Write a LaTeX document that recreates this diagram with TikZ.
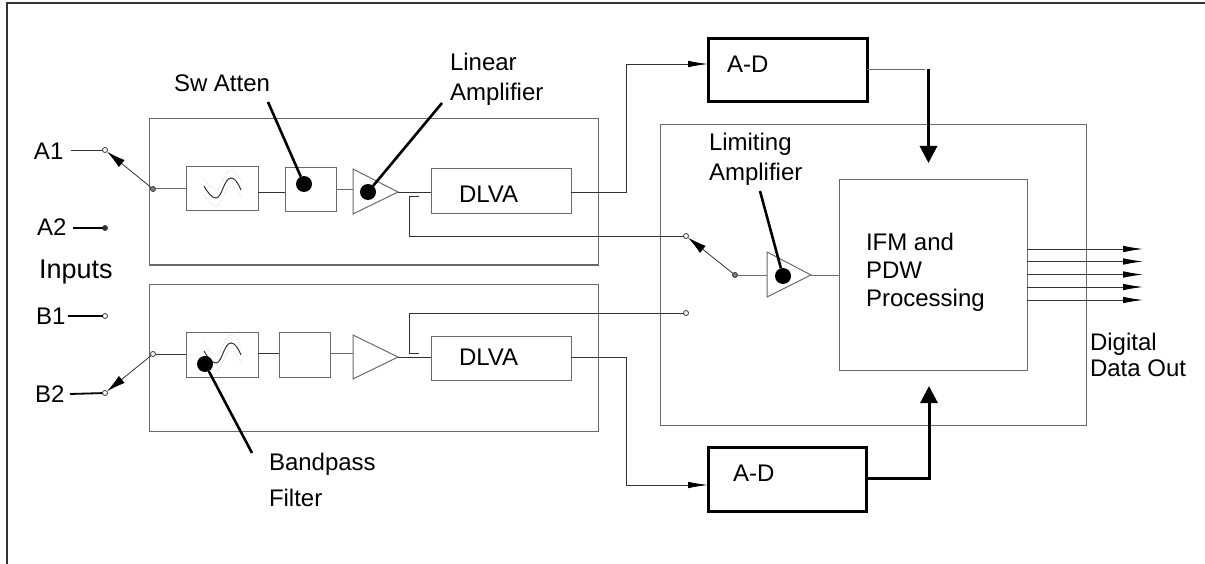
\documentclass[tikz,border=0pt]{standalone}
\usepackage{fontspec}
\setmainfont{Liberation Sans}
\usetikzlibrary{arrows.meta}
\definecolor{ln}{HTML}{6A6A6A}
\definecolor{dk}{HTML}{333333}
\definecolor{pale}{HTML}{D4D4D4}
\newcommand{\blk}[6][thinbox]{\node[#1,minimum width={(#5-#3)*1pt},minimum height={(#6-#4)*1pt}] (#2) at ({(#3+#5)/2},{(#4+#6)/2}) {};}
\newcommand{\sinewave}[2]{%
\draw[pale,line width=.7pt,densely dotted,shift={(#1,#2-8)}] (0,-4) .. controls (4,3) and (8,8) .. (12,8) .. controls (18,8) and (20,-12) .. (27,-12) .. controls (31,-12) and (34,-7) .. (37,0);
\draw[pale,line width=.7pt,densely dotted,shift={(#1,#2+8)}] (0,-4) .. controls (4,3) and (8,8) .. (12,8) .. controls (18,8) and (20,-12) .. (27,-12) .. controls (31,-12) and (34,-7) .. (37,0);
\draw[dk,line width=1pt,shift={(#1,#2)}] (0,-4) .. controls (4,3) and (8,8) .. (12,8) .. controls (18,8) and (20,-12) .. (27,-12) .. controls (31,-12) and (34,-7) .. (37,0);}
\tikzset{
  x=1pt,y=-1pt,
  wire/.style={draw=dk,line width=.8pt},
  thinbox/.style={draw=ln,line width=1pt,inner sep=0pt,outer sep=0pt},
  thickbox/.style={draw=black,line width=3pt,inner sep=0pt,outer sep=0pt},
  lead/.style={draw=black,line width=2.6pt},
  blob/.style={circle,fill=black,inner sep=0pt,outer sep=0pt,minimum size=16pt},
  term/.style={circle,draw=dk,fill=white,line width=.8pt,inner sep=0pt,outer sep=0pt,minimum size=5pt},
  termd/.style={term,fill=gray},
  txt/.style={inner sep=0pt,outer sep=0pt,anchor=base west,align=left,font=\fontsize{24}{28}\selectfont},
  tri/.style={draw=ln,line width=1pt},
  lin/.style={wire,-{Latex[length=20pt,width=6.5pt,color=black]}},
  swa/.style={wire,-{Latex[length=19pt,width=9pt,color=black]}},
  fat/.style={draw=black,line width=3pt,-{Triangle[length=17pt,width=17pt]}},
}
\begin{document}
\begin{tikzpicture}
\useasboundingbox (0,0) rectangle (1205,564);
\draw[draw=dk,line width=1.5pt] (7,564) -- (7,3) -- (1205,3);

% outer boxes
\blk{boxA}{149}{119}{598}{265}
\blk{boxB}{149}{284}{598}{431}
\blk{boxR}{660}{125}{1086}{425}
\blk{ifm}{839}{180}{1027}{370}
\blk{filtA}{186}{167}{258}{211}
\blk{filtB}{186}{332}{258}{377}
\blk{attA}{285}{168}{336}{212}
\blk{attB}{279}{332}{330}{377}
\blk{dlvaA}{431}{169}{571}{214}
\blk{dlvaB}{431}{336}{571}{380}
\blk[thickbox]{adT}{708}{39}{867}{102}
\blk[thickbox]{adB}{708}{447}{866}{511}

% triangles
\coordinate (tAa) at (353,169); \coordinate (tAb) at (353,214); \coordinate (tAc) at (398,192);
\coordinate (tBa) at (353,335); \coordinate (tBb) at (353,379); \coordinate (tBc) at (398,357);
\coordinate (tLa) at (767,252); \coordinate (tLb) at (767,297); \coordinate (tLc) at (811,275);
\draw[tri] (tAa) -- (tAb) -- (tAc) -- cycle;
\draw[tri] (tBa) -- (tBb) -- (tBc) -- cycle;
\draw[tri] (tLa) -- (tLb) -- (tLc) -- cycle;

% sine waves
\sinewave{204}{190}
\sinewave{204}{355}

% terminals
\node[term] (a1) at (105,150) {};
\node[termd] (ja) at (153,189) {};
\node[term,fill=dk] (a2) at (105,228) {};
\node[term] (b1) at (105,316) {};
\node[term] (b2) at (105,393) {};
\node[term] (jb) at (153,354) {};
\node[term] (s1) at (686,236) {};
\node[term] (s2) at (686,313) {};
\node[termd] (js) at (735,275) {};

% free ends
\coordinate (ia1) at (71,150);
\coordinate (ia2) at (73,228);
\coordinate (ib1) at (68,316);
\coordinate (ib2) at (70,394);

% input wires
\draw[wire] (ia1) -- (a1);
\draw[line width=1.8pt,draw=black] (ia2) -- (a2);
\draw[line width=1.8pt,draw=black] (ib1) -- (b1);
\draw[line width=1.8pt,draw=black] (ib2) -- (b2);
\draw[swa] (ja) -- (a1);
\draw[swa] (jb) -- (b2);
\draw[swa] (js) -- (s1);

% signal chain A
\draw[thinbox] (ja) -- (filtA.west |- ja);
\draw[wire] (filtA.east |- 0,192) -- (attA.west |- 0,192);
\draw[thinbox] (attA.east |- 0,190) -- (tAa |- 0,190);
\draw[wire] (tAc) -- (dlvaA.west |- tAc);

% signal chain B
\draw[wire] (jb) -- (filtB.west |- jb);
\draw[wire] (filtB.east |- 0,353) -- (attB.west |- 0,353);
\draw[thinbox] (attB.east |- 0,353) -- (tBa |- 0,353);
\draw[wire] (tBc) -- (dlvaB.west |- tBc);

% feedback to limiting switch
\coordinate (fa) at (419,196);
\coordinate (fb) at (419,353);
\draw[wire] (fa) -- (409,196) -- (409,236) -- (s1);
\draw[wire] (fb) -- (409,353) -- (409,313) -- (s2);
\draw[thinbox] (js) -- (tLa |- js);
\draw[thinbox] (tLc) -- (ifm.west |- tLc);

% to A-D
\draw[lin] (dlvaA.east |- 0,192) -- (626,192) -- (626,64) -- (adT.west |- 0,64);
\draw[lin] (dlvaB.east |- 0,357) -- (626,357) -- (626,485) -- (adB.west |- 0,485);

% A-D outputs
\coordinate (topdrop) at (928.5,69);
\coordinate (topend) at (928.5,163);
\coordinate (botend) at (929,386);
\draw[thinbox] (adT.east |- 0,70) -- (925,70);
\draw[fat] (topdrop) -- (topend);
\draw[fat] (adB.east |- 0,478) -- (929,478) -- (botend);

% digital outputs
\foreach \yy [count=\i] in {249,261.5,274.5,287,300}{
  \coordinate (o\i) at (1143,\yy);
  \draw[lin] (ifm.east |- o\i) -- (o\i);
}

% blobs and leaders
\node[blob] (dAtt) at (304,184) {};
\node[blob] (dAmp) at (368,192) {};
\node[blob] (dLim) at (783,276) {};
\node[blob] (dBp) at (205,364) {};
\coordinate (lAtt) at (268,102);
\coordinate (lAmp) at (442,103);
\coordinate (lLim) at (760,191);
\coordinate (lBp) at (252,453);
\draw[lead] (lAtt) -- (dAtt);
\draw[lead] (lAmp) -- (dAmp);
\draw[lead] (lLim) -- (dLim);
\draw[lead] (lBp) -- (dBp);

% labels
\node[txt] (tA1) at (34,160) {A1};
\node[txt] (tA2) at (37,236) {A2};
\node[txt,font=\fontsize{27}{30}\selectfont] (tIn) at (39,278) {Inputs};
\node[txt] (tB1) at (36,324) {B1};
\node[txt] (tB2) at (35,402) {B2};
\node[txt] (tSw) at (174,92) {Sw Atten};
\node[txt,font=\fontsize{24}{30}\selectfont] (tLin) at (450,101) {Linear\\Amplifier};
\node[txt] (tD1) at (459,203) {DLVA};
\node[txt] (tD2) at (459,365) {DLVA};
\node[txt] (tAD1) at (727,73) {A-D};
\node[txt] (tAD2) at (733,481) {A-D};
\node[txt,font=\fontsize{24}{30}\selectfont] (tLim) at (709,181) {Limiting\\Amplifier};
\node[txt] (tIfm) at (866,306) {IFM and\\PDW\\Processing};
\node[txt,font=\fontsize{24}{26}\selectfont] (tDig) at (1090,376) {Digital\\Data Out};
\node[txt,font=\fontsize{24}{36}\selectfont] (tBp) at (269,506) {Bandpass\\Filter};
\end{tikzpicture}
\end{document}
